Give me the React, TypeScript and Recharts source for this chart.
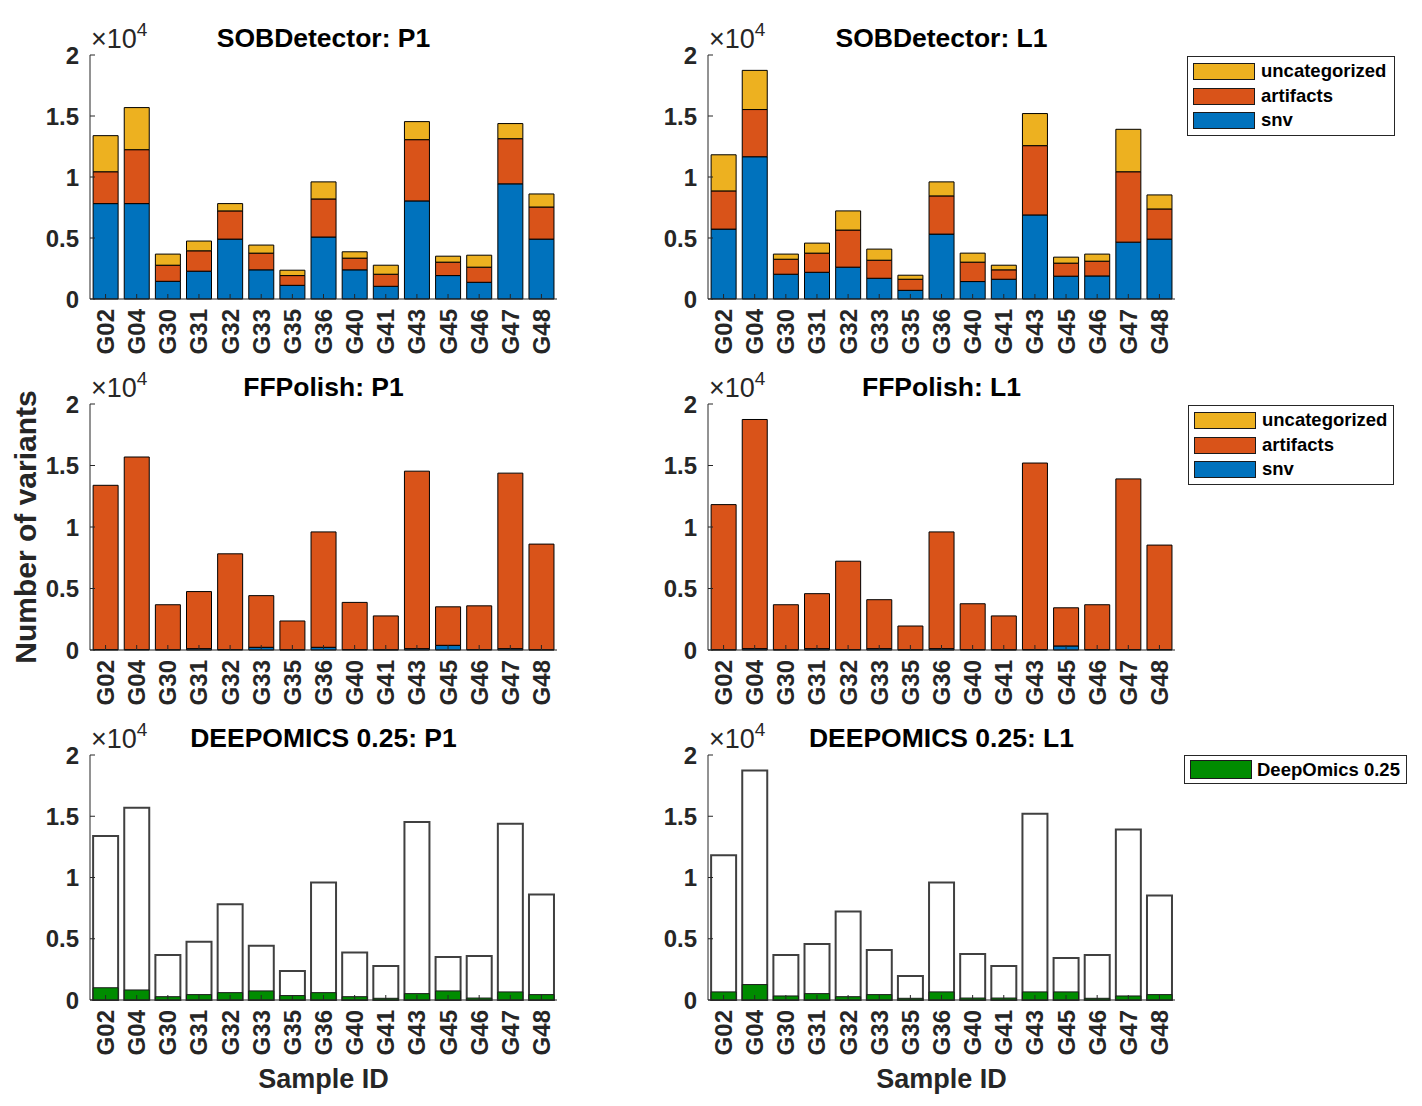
import React from 'react';
import { BarChart, Bar, XAxis, YAxis } from 'recharts';

const samples = ['G02', 'G04', 'G30', 'G31', 'G32', 'G33', 'G35', 'G36', 'G40', 'G41', 'G43', 'G45', 'G46', 'G47', 'G48'];

// SOBDetector
const sobP1Snv = [7820, 7820, 1450, 2280, 4910, 2390, 1120, 5080, 2390, 1040, 8040, 1920, 1370, 9440, 4910];
const sobP1Artifacts = [2610, 4420, 1320, 1670, 2310, 1370, 800, 3120, 960, 990, 5020, 1100, 1240, 3700, 2630];
const sobP1Uncat = [2960, 3450, 910, 800, 600, 660, 440, 1400, 520, 740, 1480, 490, 980, 1240, 1070];
const sobL1Snv = [5730, 11660, 2030, 2190, 2610, 1700, 710, 5320, 1430, 1620, 6890, 1870, 1890, 4660, 4910];
const sobL1Artifacts = [3130, 3870, 1230, 1570, 3040, 1480, 910, 3130, 1590, 770, 5680, 1070, 1210, 5770, 2470];
const sobL1Uncat = [2960, 3210, 420, 820, 1570, 910, 330, 1150, 740, 380, 2630, 490, 580, 3480, 1150];

// FFPolish
const ffP1Snv = [40, 40, 30, 110, 40, 220, 30, 220, 40, 30, 110, 380, 40, 110, 30];
const ffP1Artifacts = [13350, 15650, 3650, 4640, 7780, 4200, 2330, 9380, 3830, 2740, 14430, 3130, 3550, 14270, 8580];
const ffP1Uncat = [0, 0, 0, 0, 0, 0, 0, 0, 0, 0, 0, 0, 0, 0, 0];
const ffL1Snv = [30, 110, 30, 110, 40, 110, 30, 110, 40, 30, 40, 330, 40, 40, 40];
const ffL1Artifacts = [11790, 18630, 3650, 4470, 7180, 3980, 1920, 9490, 3720, 2740, 15160, 3100, 3640, 13870, 8490];
const ffL1Uncat = [0, 0, 0, 0, 0, 0, 0, 0, 0, 0, 0, 0, 0, 0, 0];

// DEEPOMICS 0.25 (white = all variants, green = passing)
const deepP1Total = [13390, 15690, 3680, 4750, 7820, 4420, 2360, 9600, 3870, 2770, 14540, 3510, 3590, 14380, 8610];
const deepP1Pass = [1000, 820, 270, 440, 600, 740, 360, 600, 270, 140, 520, 740, 160, 660, 440];
const deepL1Total = [11820, 18740, 3680, 4580, 7220, 4090, 1950, 9600, 3760, 2770, 15200, 3430, 3680, 13910, 8530];
const deepL1Pass = [660, 1260, 330, 520, 270, 440, 140, 660, 160, 160, 660, 660, 140, 330, 440];

const yTicks = [0, 5000, 10000, 15000, 20000];

const SNV = '#0072BD';
const ART = '#D95319';
const UNC = '#EDB120';
const DEEP = '#008C00';
const AX = '#262626';
const FONT = '"Liberation Sans", Arial, Helvetica, sans-serif';

const TOP_M = 55;
const X_AXIS_H = 70;
const CHART_W = 577;
const Y_AXIS_W = 90;
const RIGHT_M = 20;
const PLOT_W = CHART_W - Y_AXIS_W - RIGHT_M;

const stackRows = (snv: number[], art: number[], unc: number[]) =>
  samples.map((id, i) => ({ id, snv: snv[i], artifacts: art[i], uncategorized: unc[i] }));

const overlayRows = (total: number[], pass: number[]) =>
  samples.map((id, i) => ({ id, total: total[i], pass: pass[i] }));

const SampleTick = (props: any) => {
  const { x, y, payload } = props;
  return (
    <text
      x={x}
      y={y}
      transform={`rotate(-90 ${x} ${y})`}
      textAnchor="end"
      dominantBaseline="central"
      fontFamily={FONT}
      fontWeight="bold"
      fontSize={24}
      fill={AX}
    >
      {payload.value}
    </text>
  );
};

interface PanelProps {
  left: number;
  plotTop: number;
  plotH: number;
  title: string;
  data: any[];
  children: React.ReactNode;
  yLabel?: boolean;
  xLabel?: boolean;
}

const Panel = ({ left, plotTop, plotH, title, data, children, yLabel, xLabel }: PanelProps) => {
  const bottom = xLabel ? 36 : 0;
  const height = TOP_M + plotH + X_AXIS_H + bottom;

  // title, x10^4 multiplier and the shared y label hang off the left axis
  const yAxisLabel = (p: any) => {
    const vb = p.viewBox;
    const plotLeft = vb.x + vb.width;
    const cy = vb.y + vb.height / 2;
    return (
      <g>
        <text x={plotLeft + PLOT_W / 2} y={vb.y - 8} textAnchor="middle" fontFamily={FONT} fontWeight="bold" fontSize={26.5} fill="#000">
          {title}
        </text>
        <text x={plotLeft + 1} y={vb.y - 7} fontFamily={FONT} fontSize={27} fill={AX}>
          ×10<tspan fontSize={19} dy={-12}>4</tspan>
        </text>
        {yLabel && (
          <text
            x={25}
            y={cy}
            transform={`rotate(-90 25 ${cy})`}
            textAnchor="middle"
            dominantBaseline="central"
            fontFamily={FONT}
            fontWeight="bold"
            fontSize={30}
            fill={AX}
          >
            Number of variants
          </text>
        )}
      </g>
    );
  };

  const sampleLabel = (p: any) => {
    const vb = p.viewBox;
    return (
      <text x={vb.x + vb.width / 2} y={vb.y + 88} textAnchor="middle" fontFamily={FONT} fontWeight="bold" fontSize={27} fill={AX}>
        Sample ID
      </text>
    );
  };

  return (
    <div style={{ position: 'absolute', left, top: plotTop - TOP_M }}>
      <BarChart
        width={CHART_W}
        height={height}
        data={data}
        margin={{ top: TOP_M, right: RIGHT_M, bottom, left: 0 }}
        barCategoryGap="10%"
      >
        <XAxis
          dataKey="id"
          height={X_AXIS_H}
          interval={0}
          tickSize={-5}
          tickMargin={15}
          tick={<SampleTick />}
          stroke={AX}
          label={xLabel ? { content: sampleLabel } : undefined}
        />
        <XAxis
          xAxisId="top"
          orientation="top"
          dataKey="id"
          height={0}
          interval={0}
          tickSize={-5}
          tick={false}
          stroke={AX}
        />
        <YAxis
          width={Y_AXIS_W}
          domain={[0, 20000]}
          ticks={yTicks}
          interval={0}
          tickSize={-5}
          tickMargin={16}
          tickFormatter={(v: number) => String(v / 10000)}
          tick={{ fontSize: 24, fontWeight: 'bold', fill: AX, fontFamily: FONT }}
          stroke={AX}
          label={{ content: yAxisLabel }}
        />
        <YAxis
          yAxisId="r"
          orientation="right"
          width={0}
          domain={[0, 20000]}
          allowDataOverflow
          ticks={yTicks}
          interval={0}
          tickSize={-5}
          tick={false}
          stroke={AX}
        />
        {children}
      </BarChart>
    </div>
  );
};

const stackBars = [
  <Bar key="snv" dataKey="snv" stackId="s" fill={SNV} stroke="#000" strokeWidth={1} isAnimationActive={false} />,
  <Bar key="art" dataKey="artifacts" stackId="s" fill={ART} stroke="#000" strokeWidth={1} isAnimationActive={false} />,
  <Bar key="unc" dataKey="uncategorized" stackId="s" fill={UNC} stroke="#000" strokeWidth={1} isAnimationActive={false} />,
];

const overlayBars = [
  <Bar key="total" dataKey="total" fill="#fff" stroke="#404040" strokeWidth={2} isAnimationActive={false} />,
  <Bar key="pass" dataKey="pass" xAxisId="top" fill={DEEP} stroke="#1a1a1a" strokeWidth={1} isAnimationActive={false} />,
];

const legendText: React.CSSProperties = {
  position: 'absolute',
  fontFamily: FONT,
  fontWeight: 'bold',
  fontSize: 18.5,
  color: '#000',
  lineHeight: '18px',
  whiteSpace: 'nowrap',
};

const LegendBox = ({ left, top, width, items }: { left: number; top: number; width: number; items: { label: string; color: string }[] }) => {
  const single = items.length === 1;
  const height = single ? 29 : 80;
  const pitch = 24.5;
  return (
    <div
      style={{
        position: 'absolute',
        left,
        top,
        width,
        height,
        boxSizing: 'border-box',
        border: `1px solid ${AX}`,
        background: '#fff',
      }}
    >
      {items.map((it, i) => (
        <React.Fragment key={it.label}>
          <div
            style={{
              position: 'absolute',
              left: 5,
              top: (single ? 4 : 6) + i * pitch,
              width: 62,
              height: single ? 19 : 17,
              boxSizing: 'border-box',
              border: '1px solid #1a1a1a',
              background: it.color,
            }}
          />
          <div style={{ ...legendText, left: single ? 72 : 73, top: 5 + i * pitch }}>{it.label}</div>
        </React.Fragment>
      ))}
    </div>
  );
};

const threeItems = [
  { label: 'uncategorized', color: UNC },
  { label: 'artifacts', color: ART },
  { label: 'snv', color: SNV },
];

export default function App() {
  return (
    <div style={{ position: 'relative', width: 1422, height: 1106, background: '#fff', overflow: 'hidden' }}>
      <style>{'body{margin:0}'}</style>

      <Panel left={0} plotTop={55} plotH={244} title="SOBDetector: P1" data={stackRows(sobP1Snv, sobP1Artifacts, sobP1Uncat)}>
        {stackBars}
      </Panel>
      <Panel left={618} plotTop={55} plotH={244} title="SOBDetector: L1" data={stackRows(sobL1Snv, sobL1Artifacts, sobL1Uncat)}>
        {stackBars}
      </Panel>

      <Panel left={0} plotTop={404} plotH={246} title="FFPolish: P1" data={stackRows(ffP1Snv, ffP1Artifacts, ffP1Uncat)} yLabel>
        {stackBars}
      </Panel>
      <Panel left={618} plotTop={404} plotH={246} title="FFPolish: L1" data={stackRows(ffL1Snv, ffL1Artifacts, ffL1Uncat)}>
        {stackBars}
      </Panel>

      <Panel left={0} plotTop={755} plotH={245} title="DEEPOMICS 0.25: P1" data={overlayRows(deepP1Total, deepP1Pass)} xLabel>
        {overlayBars}
      </Panel>
      <Panel left={618} plotTop={755} plotH={245} title="DEEPOMICS 0.25: L1" data={overlayRows(deepL1Total, deepL1Pass)} xLabel>
        {overlayBars}
      </Panel>

      <LegendBox left={1187} top={56} width={208} items={threeItems} />
      <LegendBox left={1188} top={405} width={206} items={threeItems} />
      <LegendBox left={1184} top={755} width={223} items={[{ label: 'DeepOmics 0.25', color: DEEP }]} />
    </div>
  );
}
